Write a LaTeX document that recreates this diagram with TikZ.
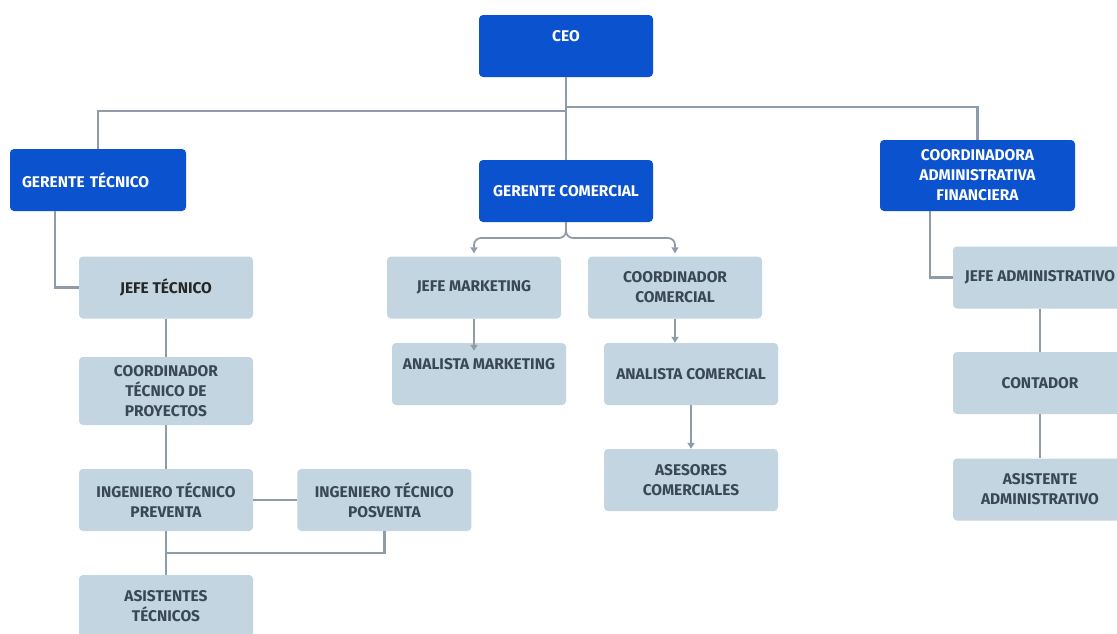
\documentclass[tikz,border=0pt]{standalone}
\usepackage{fontspec}
\setsansfont{Fira Sans}
\usepackage{tikz}
\usetikzlibrary{arrows.meta,positioning,calc}
\definecolor{ceoblue}{HTML}{0B52CF}
\definecolor{boxgray}{HTML}{C3D5E0}
\definecolor{boxtext}{HTML}{3A4854}
\definecolor{linkgray}{HTML}{8D9CA8}

\begin{document}
\begin{tikzpicture}[x=1pt, y=-1pt,
  topbox/.style={rectangle, rounded corners=4pt, fill=ceoblue, text=white,
    minimum width=174pt, minimum height=62pt, align=center, inner sep=0pt,
    font=\fontsize{15.5}{20}\selectfont\sffamily\bfseries},
  subbox/.style={rectangle, rounded corners=4pt, fill=boxgray, text=boxtext,
    minimum width=174pt, minimum height=62pt, align=center, inner sep=0pt,
    font=\fontsize{15.5}{20}\selectfont\sffamily\bfseries},
  link/.style={draw=linkgray, line width=2.4pt},
  arr/.style={draw=linkgray, line width=1.8pt, -{Triangle[length=6pt, width=7pt]}},
]
  \clip (0,0) rectangle (1117,633);
  \fill[white] (0,0) rectangle (1117,633);

  % direccion
  \node[topbox, text depth=20pt] (ceo) at (566,46) {CEO};
  \node[topbox, minimum width=176pt, text width=152pt, align=left] (gt) at (98,180) {GERENTE TÉCNICO};
  \node[topbox] (gc) at (566,191) {GERENTE COMERCIAL};
  \node[topbox, minimum width=195pt, minimum height=71pt] (caf) at (977.5,175.5) {COORDINADORA\\ADMINISTRATIVA\\FINANCIERA};

  % area tecnica
  \node[subbox, text=black!85] (jt) at (166,287.5) {JEFE TÉCNICO};
  \node[subbox, minimum height=68pt] (ctp) at (166,391) {COORDINADOR\\TÉCNICO DE\\PROYECTOS};
  \node[subbox] (itpre) at (166,500) {INGENIERO TÉCNICO\\PREVENTA};
  \node[subbox, right=44pt of itpre] (itpos) {INGENIERO TÉCNICO\\POSVENTA};
  \node[subbox] (ast) at (166,606) {ASISTENTES\\TÉCNICOS};

  % area comercial
  \node[subbox] (jm) at (474,287.5) {JEFE MARKETING};
  \node[subbox, text depth=20pt] (am) at (479,374) {ANALISTA MARKETING};
  \node[subbox] (cc) at (675,287.5) {COORDINADOR\\COMERCIAL};
  \node[subbox] (ac) at (691,374) {ANALISTA COMERCIAL};
  \node[subbox] (asc) at (691,480) {ASESORES\\COMERCIALES};

  % area administrativa
  \node[subbox] (ja) at (1040,277.5) {JEFE ADMINISTRATIVO};
  \node[subbox] (con) at (1040,383) {CONTADOR};
  \node[subbox] (asa) at (1040,489.5) {ASISTENTE\\ADMINISTRATIVO};

  % conexiones
  \coordinate (lbus) at (566,111);
  \coordinate (rbus) at (566,107);
  \coordinate (tjoin) at (166,553);
  \coordinate (gcb) at (566,238);

  \draw[link] (ceo.south) -- (gc.north);
  \draw[link] (lbus) -| (gt.north);
  \draw[link] (rbus) -| (caf.north);

  \draw[link] ($(gt.south west)+(45,0)$) |- (jt.west);
  \draw[link] (jt) -- (ctp);
  \draw[link] (ctp) -- (itpre);
  \draw[link] (itpre) -- (itpos);
  \draw[link] (itpre) -- (ast);
  \draw[link] (itpos.south) |- (tjoin);

  \draw[arr, rounded corners=7pt, shorten >=3pt] (gc.south) -- (gcb) -| (jm.north);
  \draw[arr, rounded corners=7pt, shorten >=3pt] (gc.south) -- (gcb) -| (cc.north);
  \draw[arr] (jm.south) -- ($(jm.south |- am.north)+(0,8)$);
  \draw[arr] (cc.south) -- (cc.south |- ac.north);
  \draw[arr] (ac.south) -- (ac.south |- asc.north);

  \draw[link] ($(caf.south west)+(50,0)$) |- (ja.west);
  \draw[link] (ja) -- (con);
  \draw[link] (con) -- (asa);
\end{tikzpicture}
\end{document}
